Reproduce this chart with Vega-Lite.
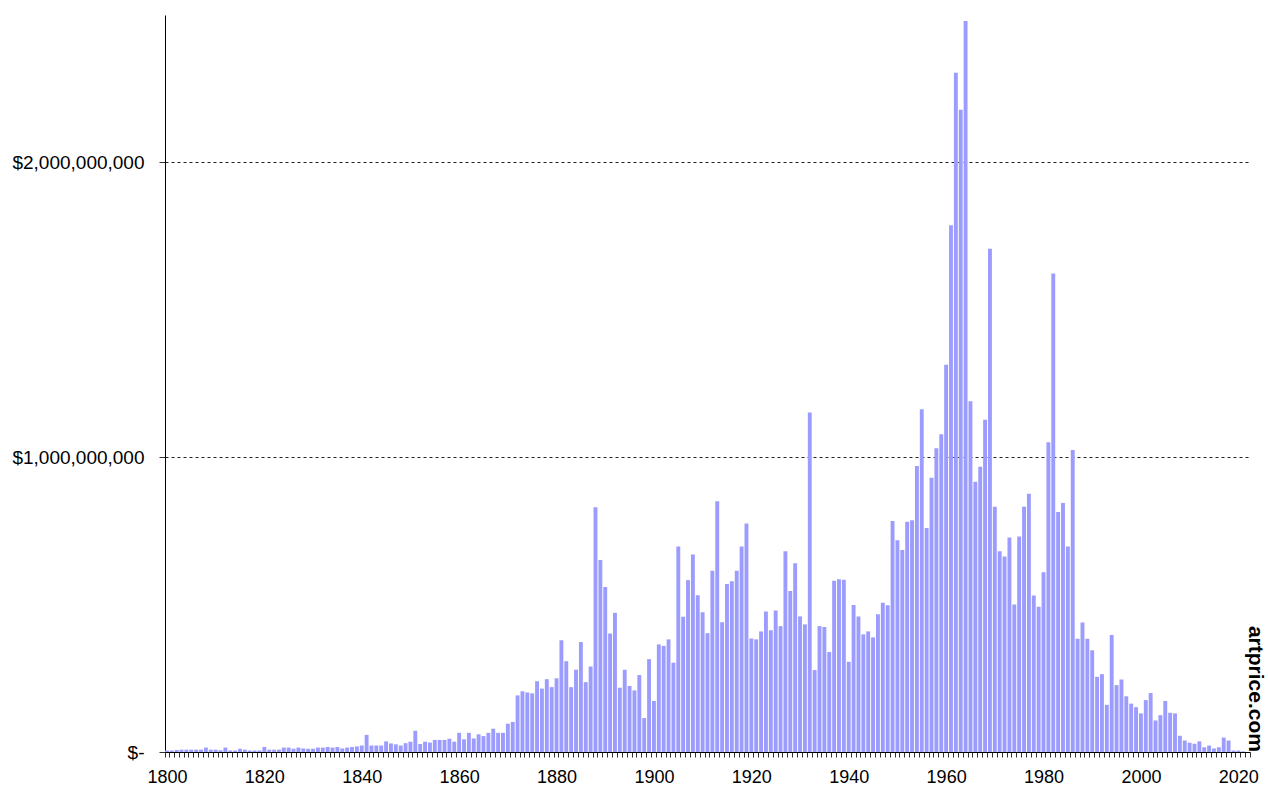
{
  "$schema": "https://vega.github.io/schema/vega-lite/v6.json",
  "width": 1085,
  "height": 737,
  "autosize": {"type": "none"},
  "padding": {"left": 165, "top": 15, "right": 18, "bottom": 37},
  "background": "white",
  "title": {"text": "artprice.com", "orient": "right", "anchor": "end", "frame": "group", "angle": 90, "fontSize": 21, "fontWeight": "bold", "font": "Liberation Sans", "color": "black", "offset": -13},
  "config": {"view": {"stroke": null}, "font": "Liberation Sans"},
  "data": {"values": [
    {"year":1800,"value":5000000},{"year":1801,"value":5000000},{"year":1802,"value":7000000},{"year":1803,"value":8000000},{"year":1804,"value":8000000},
    {"year":1805,"value":8000000},{"year":1806,"value":8000000},{"year":1807,"value":8000000},{"year":1808,"value":15000000},{"year":1809,"value":8000000},
    {"year":1810,"value":8000000},{"year":1811,"value":6000000},{"year":1812,"value":15000000},{"year":1813,"value":5000000},{"year":1814,"value":5000000},
    {"year":1815,"value":11000000},{"year":1816,"value":8000000},{"year":1817,"value":5000000},{"year":1818,"value":5000000},{"year":1819,"value":5000000},
    {"year":1820,"value":17000000},{"year":1821,"value":8000000},{"year":1822,"value":8000000},{"year":1823,"value":8000000},{"year":1824,"value":15000000},
    {"year":1825,"value":15000000},{"year":1826,"value":11000000},{"year":1827,"value":15000000},{"year":1828,"value":12000000},{"year":1829,"value":11000000},
    {"year":1830,"value":11000000},{"year":1831,"value":15000000},{"year":1832,"value":15000000},{"year":1833,"value":17000000},{"year":1834,"value":15000000},
    {"year":1835,"value":17000000},{"year":1836,"value":12000000},{"year":1837,"value":15000000},{"year":1838,"value":17000000},{"year":1839,"value":19000000},
    {"year":1840,"value":22000000},{"year":1841,"value":58000000},{"year":1842,"value":22000000},{"year":1843,"value":22000000},{"year":1844,"value":22000000},
    {"year":1845,"value":36000000},{"year":1846,"value":29000000},{"year":1847,"value":26000000},{"year":1848,"value":22000000},{"year":1849,"value":30000000},
    {"year":1850,"value":35000000},{"year":1851,"value":72000000},{"year":1852,"value":27000000},{"year":1853,"value":35000000},{"year":1854,"value":32000000},
    {"year":1855,"value":41000000},{"year":1856,"value":41000000},{"year":1857,"value":41000000},{"year":1858,"value":45000000},{"year":1859,"value":35000000},
    {"year":1860,"value":65000000},{"year":1861,"value":43000000},{"year":1862,"value":65000000},{"year":1863,"value":46000000},{"year":1864,"value":60000000},
    {"year":1865,"value":54000000},{"year":1866,"value":65000000},{"year":1867,"value":79000000},{"year":1868,"value":65000000},{"year":1869,"value":65000000},
    {"year":1870,"value":96000000},{"year":1871,"value":102000000},{"year":1872,"value":192000000},{"year":1873,"value":206000000},{"year":1874,"value":202000000},
    {"year":1875,"value":199000000},{"year":1876,"value":240000000},{"year":1877,"value":215000000},{"year":1878,"value":247000000},{"year":1879,"value":220000000},
    {"year":1880,"value":250000000},{"year":1881,"value":379000000},{"year":1882,"value":308000000},{"year":1883,"value":220000000},{"year":1884,"value":279000000},
    {"year":1885,"value":373000000},{"year":1886,"value":237000000},{"year":1887,"value":290000000},{"year":1888,"value":830000000},{"year":1889,"value":651000000},
    {"year":1890,"value":560000000},{"year":1891,"value":402000000},{"year":1892,"value":472000000},{"year":1893,"value":218000000},{"year":1894,"value":279000000},
    {"year":1895,"value":224000000},{"year":1896,"value":209000000},{"year":1897,"value":261000000},{"year":1898,"value":115000000},{"year":1899,"value":315000000},
    {"year":1900,"value":173000000},{"year":1901,"value":365000000},{"year":1902,"value":360000000},{"year":1903,"value":382000000},{"year":1904,"value":303000000},
    {"year":1905,"value":697000000},{"year":1906,"value":459000000},{"year":1907,"value":583000000},{"year":1908,"value":670000000},{"year":1909,"value":532000000},
    {"year":1910,"value":474000000},{"year":1911,"value":403000000},{"year":1912,"value":615000000},{"year":1913,"value":851000000},{"year":1914,"value":440000000},
    {"year":1915,"value":570000000},{"year":1916,"value":579000000},{"year":1917,"value":615000000},{"year":1918,"value":697000000},{"year":1919,"value":775000000},
    {"year":1920,"value":385000000},{"year":1921,"value":382000000},{"year":1922,"value":409000000},{"year":1923,"value":477000000},{"year":1924,"value":413000000},
    {"year":1925,"value":480000000},{"year":1926,"value":427000000},{"year":1927,"value":681000000},{"year":1928,"value":546000000},{"year":1929,"value":640000000},
    {"year":1930,"value":460000000},{"year":1931,"value":433000000},{"year":1932,"value":1152000000},{"year":1933,"value":278000000},{"year":1934,"value":427000000},
    {"year":1935,"value":424000000},{"year":1936,"value":339000000},{"year":1937,"value":581000000},{"year":1938,"value":586000000},{"year":1939,"value":584000000},
    {"year":1940,"value":306000000},{"year":1941,"value":499000000},{"year":1942,"value":460000000},{"year":1943,"value":399000000},{"year":1944,"value":409000000},
    {"year":1945,"value":389000000},{"year":1946,"value":467000000},{"year":1947,"value":506000000},{"year":1948,"value":498000000},{"year":1949,"value":784000000},
    {"year":1950,"value":718000000},{"year":1951,"value":685000000},{"year":1952,"value":781000000},{"year":1953,"value":786000000},{"year":1954,"value":970000000},
    {"year":1955,"value":1163000000},{"year":1956,"value":760000000},{"year":1957,"value":930000000},{"year":1958,"value":1030000000},{"year":1959,"value":1078000000},
    {"year":1960,"value":1314000000},{"year":1961,"value":1787000000},{"year":1962,"value":2304000000},{"year":1963,"value":2179000000},{"year":1964,"value":2480000000},
    {"year":1965,"value":1190000000},{"year":1966,"value":917000000},{"year":1967,"value":968000000},{"year":1968,"value":1127000000},{"year":1969,"value":1707000000},
    {"year":1970,"value":832000000},{"year":1971,"value":681000000},{"year":1972,"value":663000000},{"year":1973,"value":728000000},{"year":1974,"value":500000000},
    {"year":1975,"value":731000000},{"year":1976,"value":832000000},{"year":1977,"value":876000000},{"year":1978,"value":531000000},{"year":1979,"value":493000000},
    {"year":1980,"value":610000000},{"year":1981,"value":1051000000},{"year":1982,"value":1623000000},{"year":1983,"value":814000000},{"year":1984,"value":845000000},
    {"year":1985,"value":697000000},{"year":1986,"value":1024000000},{"year":1987,"value":384000000},{"year":1988,"value":439000000},{"year":1989,"value":384000000},
    {"year":1990,"value":345000000},{"year":1991,"value":255000000},{"year":1992,"value":264000000},{"year":1993,"value":160000000},{"year":1994,"value":397000000},
    {"year":1995,"value":227000000},{"year":1996,"value":246000000},{"year":1997,"value":189000000},{"year":1998,"value":164000000},{"year":1999,"value":152000000},
    {"year":2000,"value":131000000},{"year":2001,"value":176000000},{"year":2002,"value":200000000},{"year":2003,"value":107000000},{"year":2004,"value":125000000},
    {"year":2005,"value":173000000},{"year":2006,"value":133000000},{"year":2007,"value":131000000},{"year":2008,"value":55000000},{"year":2009,"value":39000000},
    {"year":2010,"value":31000000},{"year":2011,"value":28000000},{"year":2012,"value":36000000},{"year":2013,"value":16000000},{"year":2014,"value":22000000},
    {"year":2015,"value":12000000},{"year":2016,"value":16000000},{"year":2017,"value":49000000},{"year":2018,"value":39000000},{"year":2019,"value":5000000},
    {"year":2020,"value":5000000},{"year":2021,"value":2000000},{"year":2022,"value":0}
  ]},
  "mark": {"type": "bar", "color": "#9c9cff"},
  "encoding": {
    "x": {
      "field": "year", "type": "ordinal",
      "scale": {"paddingInner": 0.2, "paddingOuter": 0},
      "axis": {
        "title": null,
        "labelAngle": 0,
        "labelExpr": "datum.value % 20 == 0 ? datum.value : ''",
        "labelOverlap": false,
        "labelFontSize": 18,
        "labelColor": "black",
        "labelPadding": 11,
        "labelFont": "Liberation Sans",
        "tickBand": "extent",
        "tickSize": 5,
        "tickColor": "#333333",
        "domainColor": "black",
        "domainWidth": 1,
        "grid": false
      }
    },
    "y": {
      "field": "value", "type": "quantitative",
      "scale": {"domain": [0, 2500000000], "nice": false},
      "axis": {
        "title": null,
        "values": [0, 1000000000, 2000000000],
        "labelExpr": "datum.value == 0 ? '$-' : '$' + format(datum.value, ',')",
        "labelFontSize": 19,
        "labelColor": "black",
        "labelFont": "Liberation Sans",
        "labelPadding": 15,
        "tickSize": 6,
        "tickColor": "#333333",
        "domainColor": "black",
        "grid": true,
        "gridColor": "#222222",
        "gridDash": [3, 3],
        "gridWidth": 1
      }
    }
  }
}
